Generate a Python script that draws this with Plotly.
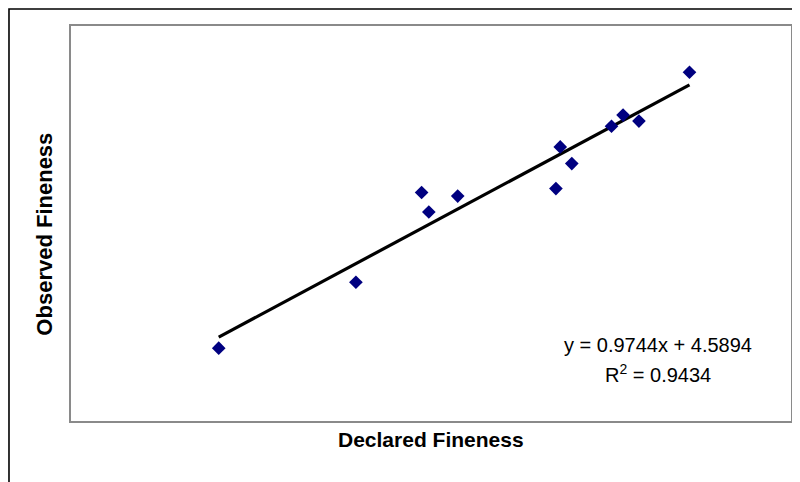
import plotly.graph_objects as go

# Data (axes carry no tick labels)
declared = [70.6, 89.6, 98.7, 99.7, 103.7, 117.3, 117.9, 119.5, 125.0, 126.6, 128.8, 135.8]
observed = [70.6, 87.2, 109.8, 104.9, 108.9, 110.8, 121.3, 117.1, 126.5, 129.3, 127.8, 140.1]
slope = 0.9744
intercept = 4.5894
r2 = 0.9434
x_range = [50, 150]
y_range = [52, 152]

trend_x = [min(declared), max(declared)]
trend_y = [slope * v + intercept for v in trend_x]

font_family = "Liberation Sans, Arial, sans-serif"

fig = go.Figure()
fig.add_trace(go.Scatter(x=trend_x, y=trend_y, mode="lines",
                         line=dict(color="black", width=3.2), hoverinfo="skip"))
fig.add_trace(go.Scatter(x=declared, y=observed, mode="markers",
                         marker=dict(symbol="diamond", size=10.5, color="#000080",
                                     line=dict(width=0))))

fig.update_layout(
    width=800, height=482,
    margin=dict(l=62, r=16, t=17, b=68),
    paper_bgcolor="white", plot_bgcolor="white",
    showlegend=False,
    font=dict(family=font_family, color="black"),
    xaxis=dict(range=x_range, showgrid=False, zeroline=False, showticklabels=False,
               ticks="", showline=False),
    yaxis=dict(range=y_range, showgrid=False, zeroline=False, showticklabels=False,
               ticks="", showline=False),
    shapes=[
        dict(type="rect", xref="paper", yref="paper", x0=0, y0=0, x1=1, y1=1,
             line=dict(color="#8a8a8a", width=2), layer="above"),
        dict(type="rect", xref="paper", yref="paper", x0=-0.0845, y0=-0.3, x1=1.1, y1=1.0403,
             line=dict(color="black", width=1.6)),
    ],
    annotations=[
        dict(text=f"y = {slope}x + {intercept}", xref="paper", yref="paper",
             x=0.814, y=0.194, showarrow=False, xanchor="center", yanchor="middle",
             font=dict(size=20, family=font_family)),
        dict(text=f"R<sup>2</sup> = {r2}", xref="paper", yref="paper",
             x=0.814, y=0.123, showarrow=False, xanchor="center", yanchor="middle",
             font=dict(size=20, family=font_family)),
        dict(text="<b>Declared Fineness</b>", xref="paper", yref="paper",
             x=0.5, y=-0.045, showarrow=False, xanchor="center", yanchor="middle",
             font=dict(size=21, family=font_family)),
        dict(text="<b>Observed Fineness</b>", xref="paper", yref="paper",
             x=-0.0346, y=0.472, showarrow=False, xanchor="center", yanchor="middle",
             textangle=-90, font=dict(size=22, family=font_family)),
    ],
)

fig.write_html("out.html")
